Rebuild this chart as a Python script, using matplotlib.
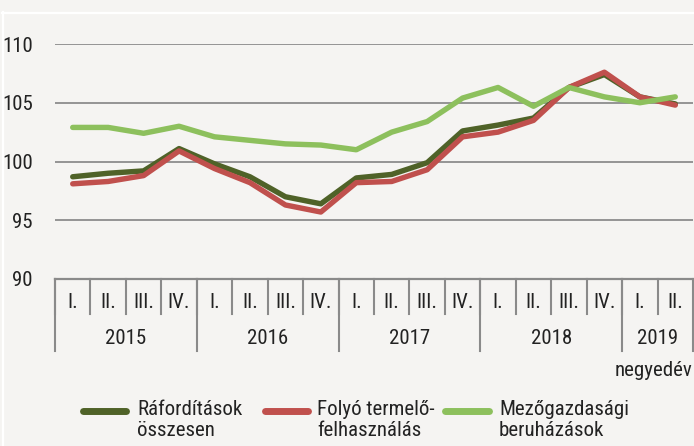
import numpy as np
import matplotlib.pyplot as plt
import matplotlib.transforms as mtransforms
from matplotlib.lines import Line2D

plt.rcParams['font.family'] = ['Roboto Condensed', 'Liberation Sans', 'DejaVu Sans']

# adatok (negyedéves indexek)
quarters = ['I.', 'II.', 'III.', 'IV.'] * 4 + ['I.', 'II.']
years = ['2015', '2016', '2017', '2018', '2019']
year_len = [4, 4, 4, 4, 2]

raforditasok = [98.7, 99.0, 99.2, 101.1, 99.8, 98.7, 97.0, 96.4,
                98.6, 98.9, 99.9, 102.6, 103.1, 103.7, 106.3, 107.4, 105.5, 104.9]
folyo = [98.1, 98.3, 98.8, 100.9, 99.4, 98.2, 96.3, 95.7,
         98.2, 98.3, 99.3, 102.1, 102.5, 103.5, 106.3, 107.6, 105.5, 104.8]
beruhazasok = [102.9, 102.9, 102.4, 103.0, 102.1, 101.8, 101.5, 101.4,
               101.0, 102.5, 103.4, 105.4, 106.3, 104.7, 106.3, 105.5, 105.0, 105.5]

labels = ['Ráfordítások\nösszesen', 'Folyó termelő-\nfelhasználás', 'Mezőgazdasági\nberuházások']
colors = ['#4f6228', '#c0504d', '#8dc05d']

bg = '#f5f4f2'
W, H = 694, 446
fig = plt.figure(figsize=(W / 100, H / 100), dpi=100, facecolor=bg)

def px(x, y):
    return x / W, 1 - y / H

ax_l, ax_r, ax_t, ax_b = 55, 693, 44, 279
ax = fig.add_axes([ax_l / W, 1 - ax_b / H, (ax_r - ax_l) / W, (ax_b - ax_t) / H])
ax.set_facecolor(bg)

x = np.arange(len(quarters))
for ser, c in zip([raforditasok, folyo, beruhazasok], colors):
    ax.plot(x, ser, color=c, lw=3.9, solid_capstyle='round', solid_joinstyle='round', zorder=3)

ax.set_xlim(-0.5, len(quarters) - 0.5)
ax.set_ylim(90, 110)
ax.set_yticks([90, 95, 100, 105, 110])
ax.tick_params(axis='y', length=0, pad=16, labelsize=15, labelcolor='#222222')
ax.set_xticks([])
ax.grid(axis='y', color='#7a7a7a', lw=1.1)
ax.set_axisbelow(True)
for s in ['top', 'right', 'left']:
    ax.spines[s].set_visible(False)
ax.spines['bottom'].set_color('#8a8a8a')
ax.spines['bottom'].set_linewidth(1.6)
ax.spines['bottom'].set_zorder(4)

# kategória tengely (negyedév + év)
axh = ax_b - ax_t
trans = mtransforms.blended_transform_factory(ax.transData, ax.transAxes)
sep_col = '#8a8a8a'
for i, q in enumerate(quarters):
    ax.text(i, -24 / axh, q, transform=trans, ha='center', va='center',
            fontsize=15, color='#222222')
    ax.plot([i - 0.5, i - 0.5], [0, -35 / axh], transform=trans, color=sep_col,
            lw=1.5, clip_on=False)
start = 0
for y, n in zip(years, year_len):
    ax.plot([start - 0.5, start - 0.5], [0, -72 / axh], transform=trans, color=sep_col,
            lw=1.5, clip_on=False)
    ax.text(start + n / 2 - 0.5, -59 / axh, y, transform=trans, ha='center', va='center',
            fontsize=15, color='#222222')
    start += n
ax.plot([start - 0.5, start - 0.5], [0, -72 / axh], transform=trans, color=sep_col,
        lw=1.5, clip_on=False)

fig.text(*px(692, 371), 'negyedév', ha='right', va='center', fontsize=15, color='#222222')

# jelmagyarázat
leg_x = [(83, 126, 137), (265, 308, 317), (445, 489, 499)]
for (x0, x1, tx), c, lab in zip(leg_x, colors, labels):
    fig.add_artist(Line2D([x0 / W, x1 / W], [1 - 411 / H, 1 - 411 / H], color=c, lw=5,
                          solid_capstyle='round', transform=fig.transFigure))
    fig.text(*px(tx, 400), lab, ha='left', va='top', fontsize=15, color='#222222',
             linespacing=1.1)

# fehér keret
fig.add_artist(Line2D([2 / W, 1], [1 - 12.5 / H, 1 - 12.5 / H], color='white', lw=1.6,
                      transform=fig.transFigure))
fig.add_artist(Line2D([2.5 / W, 2.5 / W], [0, 1 - 12 / H], color='white', lw=1.6,
                      transform=fig.transFigure))

fig.savefig('out.png', dpi=100, facecolor=bg)
